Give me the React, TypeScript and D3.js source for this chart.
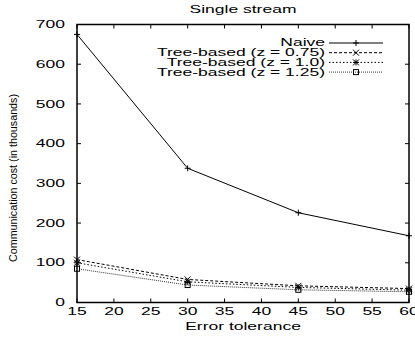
import React from "react";
import * as d3 from "d3";

const xValues = [15, 30, 45, 60];
const naive = [675, 338, 226, 168];
const tree075 = [108, 58, 42, 35];
const tree100 = [100, 52, 38, 31];
const tree125 = [85, 44, 32, 27];
const xTicks = [15, 20, 25, 30, 35, 40, 45, 50, 55, 60];
const yTicks = [0, 100, 200, 300, 400, 500, 600, 700];
const seriesNames = ["Naive", "Tree-based (z = 0.75)", "Tree-based (z = 1.0)", "Tree-based (z = 1.25)"];

const W = 415, H = 337;
const L = 77, R = 409, T = 24.5, B = 302.5;
const SX = 1.75;
const FONT = "Liberation Sans, Arial, sans-serif";

function Marker({ kind, x, y }: { kind: string; x: number; y: number }) {
  const s = 3;
  const st = { stroke: "#000", strokeWidth: 1, fill: "none" } as const;
  if (kind === "plus")
    return <path d={`M${x - s},${y}H${x + s}M${x},${y - s}V${y + s}`} {...st} />;
  if (kind === "x")
    return <path d={`M${x - s},${y - s}L${x + s},${y + s}M${x - s},${y + s}L${x + s},${y - s}`} {...st} />;
  if (kind === "star")
    return <path d={`M${x - s},${y}H${x + s}M${x},${y - s}V${y + s}M${x - s},${y - s}L${x + s},${y + s}M${x - s},${y + s}L${x + s},${y - s}`} {...st} />;
  return <rect x={x - 2.5} y={y - 2.5} width={5} height={5} {...st} />;
}

function SText({ x, y, anchor, children, size = 10 }: any) {
  return (
    <text transform={`translate(${x},${y}) scale(${SX},1)`} textAnchor={anchor} fontFamily={FONT} fontSize={size} fill="#000">
      {children}
    </text>
  );
}

export default function App() {
  const x = d3.scaleLinear().domain([15, 60]).range([L, R]);
  const y = d3.scaleLinear().domain([0, 700]).range([B, T]);
  const line = d3.line<number>().x((_, i) => x(xValues[i])).y((d) => y(d));

  const series = [
    { name: seriesNames[0], data: naive, dash: "", marker: "plus", color: "#000" },
    { name: seriesNames[1], data: tree075, dash: "3,2", marker: "x", color: "#000" },
    { name: seriesNames[2], data: tree100, dash: "1.5,2", marker: "star", color: "#000" },
    { name: seriesNames[3], data: tree125, dash: "1,1", marker: "square", color: "#333" },
  ];

  const legendRows = [43, 52.7, 62.4, 72.1];

  return (
    <svg width={W} height={H} style={{ position: "absolute", left: 0, top: 0, background: "#fff" }}>
      <rect width={W} height={H} fill="#fff" />
      {xTicks.map((t) => (
        <g key={"xt" + t}>
          <line x1={x(t)} x2={x(t)} y1={B} y2={B - 4} stroke="#000" />
          <line x1={x(t)} x2={x(t)} y1={T} y2={T + 4} stroke="#000" />
          <SText x={x(t)} y={315} anchor="middle">{t}</SText>
        </g>
      ))}
      {yTicks.map((t) => (
        <g key={"yt" + t}>
          <line x1={L} x2={L + 4} y1={y(t)} y2={y(t)} stroke="#000" />
          <line x1={R} x2={R - 4} y1={y(t)} y2={y(t)} stroke="#000" />
          <SText x={65} y={y(t) + 3.6} anchor="end">{t}</SText>
        </g>
      ))}
      <rect x={L} y={T} width={R - L} height={B - T} fill="none" stroke="#000" strokeWidth={1.5} />
      {series.map((s) => (
        <g key={s.name}>
          <path d={line(s.data) || ""} fill="none" stroke={s.color} strokeWidth={1} strokeDasharray={s.dash || undefined} />
          {s.data.map((v, i) => (
            <Marker key={i} kind={s.marker} x={x(xValues[i])} y={y(v)} />
          ))}
        </g>
      ))}
      {series.map((s, i) => (
        <g key={"lg" + i}>
          <SText x={325} y={legendRows[i] + 3.4} anchor="end">{s.name}</SText>
          <line x1={329} x2={383} y1={legendRows[i]} y2={legendRows[i]} stroke={s.color} strokeDasharray={s.dash || undefined} />
          <Marker kind={s.marker} x={356} y={legendRows[i]} />
        </g>
      ))}
      <SText x={243} y={12.5} anchor="middle">Single stream</SText>
      <SText x={243} y={329.5} anchor="middle">Error tolerance</SText>
      <text
        transform={`translate(17,178) rotate(-90)`}
        textAnchor="middle"
        fontFamily={FONT}
        fontSize={11}
        textLength={168}
        lengthAdjust="spacingAndGlyphs"
      >
        Communication cost (in thousands)
      </text>
    </svg>
  );
}
